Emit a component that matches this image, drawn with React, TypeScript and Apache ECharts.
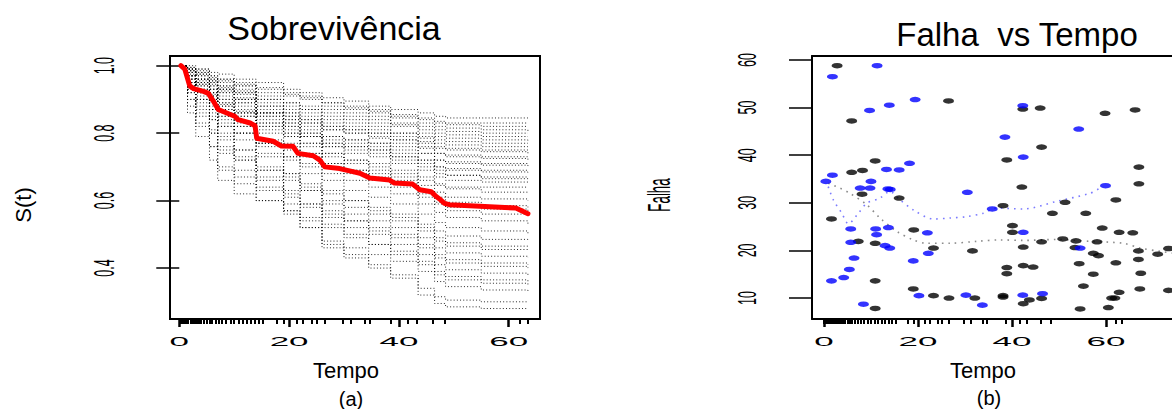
import React, { useEffect, useRef } from "react";
import * as echarts from "echarts";

// ---------- Panel (a): survival curves ----------
const curveTimes = [0, 1.5, 3, 5.5, 7, 10, 14, 19, 22, 26, 30, 34.5, 38.5, 43.5, 46.5, 48.5, 55, 63.5];
const survCurves = [
  [1, 1, 0.99, 0.98, 0.975, 0.96, 0.95, 0.93, 0.92, 0.905, 0.895, 0.88, 0.87, 0.86, 0.85, 0.845, 0.845, 0.845],
  [1, 0.985, 0.975, 0.965, 0.955, 0.945, 0.935, 0.92, 0.91, 0.89, 0.875, 0.865, 0.855, 0.845, 0.835, 0.83, 0.83, 0.83],
  [1, 0.99, 0.985, 0.97, 0.96, 0.95, 0.93, 0.915, 0.9, 0.89, 0.88, 0.87, 0.85, 0.84, 0.83, 0.825, 0.82, 0.82],
  [1, 0.98, 0.96, 0.955, 0.95, 0.94, 0.92, 0.91, 0.905, 0.88, 0.87, 0.86, 0.845, 0.83, 0.82, 0.815, 0.81, 0.805],
  [1, 0.97, 0.95, 0.94, 0.93, 0.925, 0.9, 0.89, 0.88, 0.87, 0.86, 0.85, 0.83, 0.82, 0.81, 0.805, 0.8, 0.8],
  [1, 0.97, 0.955, 0.945, 0.935, 0.92, 0.9, 0.88, 0.87, 0.86, 0.85, 0.84, 0.825, 0.81, 0.8, 0.795, 0.79, 0.79],
  [1, 0.995, 0.99, 0.97, 0.96, 0.94, 0.91, 0.89, 0.87, 0.85, 0.84, 0.83, 0.82, 0.8, 0.79, 0.785, 0.78, 0.775],
  [1, 0.99, 0.97, 0.95, 0.94, 0.93, 0.89, 0.87, 0.86, 0.84, 0.83, 0.82, 0.8, 0.79, 0.78, 0.775, 0.77, 0.77],
  [1, 0.96, 0.94, 0.93, 0.92, 0.9, 0.88, 0.86, 0.85, 0.83, 0.82, 0.81, 0.8, 0.785, 0.77, 0.765, 0.76, 0.76],
  [1, 0.94, 0.92, 0.91, 0.9, 0.88, 0.86, 0.85, 0.84, 0.82, 0.81, 0.8, 0.79, 0.775, 0.76, 0.755, 0.75, 0.75],
  [1, 0.985, 0.97, 0.95, 0.93, 0.915, 0.88, 0.86, 0.84, 0.82, 0.81, 0.8, 0.78, 0.77, 0.755, 0.75, 0.745, 0.74],
  [1, 0.975, 0.96, 0.94, 0.92, 0.9, 0.86, 0.84, 0.83, 0.81, 0.8, 0.785, 0.77, 0.755, 0.74, 0.735, 0.73, 0.73],
  [1, 0.95, 0.93, 0.91, 0.9, 0.89, 0.86, 0.84, 0.83, 0.81, 0.8, 0.79, 0.78, 0.76, 0.74, 0.73, 0.725, 0.72],
  [1, 0.96, 0.945, 0.93, 0.91, 0.89, 0.85, 0.83, 0.81, 0.79, 0.78, 0.77, 0.75, 0.74, 0.72, 0.715, 0.71, 0.71],
  [1, 0.99, 0.975, 0.96, 0.94, 0.92, 0.87, 0.85, 0.82, 0.79, 0.78, 0.77, 0.76, 0.74, 0.72, 0.71, 0.705, 0.7],
  [1, 0.995, 0.98, 0.955, 0.925, 0.905, 0.86, 0.83, 0.8, 0.77, 0.76, 0.75, 0.73, 0.72, 0.7, 0.695, 0.69, 0.69],
  [1, 0.97, 0.94, 0.92, 0.89, 0.87, 0.84, 0.82, 0.8, 0.78, 0.77, 0.76, 0.74, 0.72, 0.7, 0.69, 0.685, 0.68],
  [1, 0.95, 0.92, 0.9, 0.88, 0.86, 0.83, 0.81, 0.79, 0.76, 0.75, 0.74, 0.72, 0.7, 0.68, 0.675, 0.67, 0.67],
  [1, 0.93, 0.9, 0.88, 0.86, 0.85, 0.82, 0.8, 0.79, 0.77, 0.76, 0.75, 0.73, 0.71, 0.69, 0.675, 0.665, 0.66],
  [1, 0.99, 0.98, 0.96, 0.93, 0.9, 0.85, 0.82, 0.79, 0.76, 0.74, 0.73, 0.71, 0.69, 0.67, 0.66, 0.655, 0.65],
  [1, 0.97, 0.945, 0.915, 0.885, 0.865, 0.83, 0.8, 0.77, 0.74, 0.72, 0.7, 0.68, 0.66, 0.645, 0.64, 0.64, 0.64],
  [1, 0.96, 0.93, 0.9, 0.87, 0.85, 0.81, 0.79, 0.77, 0.74, 0.72, 0.71, 0.69, 0.67, 0.65, 0.635, 0.625, 0.62],
  [1, 0.98, 0.95, 0.92, 0.88, 0.86, 0.82, 0.79, 0.76, 0.73, 0.71, 0.69, 0.67, 0.645, 0.625, 0.61, 0.605, 0.6],
  [1, 0.92, 0.88, 0.85, 0.82, 0.8, 0.77, 0.75, 0.73, 0.71, 0.69, 0.68, 0.66, 0.63, 0.61, 0.595, 0.585, 0.58],
  [1, 0.94, 0.9, 0.87, 0.84, 0.82, 0.78, 0.76, 0.74, 0.71, 0.69, 0.67, 0.65, 0.62, 0.595, 0.58, 0.575, 0.57],
  [1, 0.985, 0.96, 0.93, 0.89, 0.86, 0.8, 0.77, 0.74, 0.7, 0.68, 0.66, 0.64, 0.61, 0.59, 0.57, 0.56, 0.555],
  [1, 0.95, 0.91, 0.87, 0.83, 0.8, 0.76, 0.73, 0.71, 0.68, 0.66, 0.64, 0.62, 0.59, 0.565, 0.55, 0.54, 0.53],
  [1, 0.97, 0.93, 0.89, 0.85, 0.82, 0.77, 0.73, 0.7, 0.66, 0.63, 0.61, 0.59, 0.56, 0.535, 0.52, 0.51, 0.5],
  [1, 0.9, 0.85, 0.8, 0.75, 0.72, 0.69, 0.67, 0.65, 0.62, 0.6, 0.58, 0.56, 0.53, 0.51, 0.495, 0.485, 0.48],
  [1, 0.99, 0.96, 0.92, 0.87, 0.83, 0.77, 0.72, 0.68, 0.63, 0.6, 0.57, 0.55, 0.52, 0.49, 0.475, 0.465, 0.46],
  [1, 0.94, 0.89, 0.84, 0.79, 0.75, 0.7, 0.66, 0.63, 0.6, 0.58, 0.56, 0.54, 0.51, 0.48, 0.465, 0.455, 0.45],
  [1, 0.96, 0.92, 0.87, 0.82, 0.78, 0.73, 0.68, 0.64, 0.59, 0.56, 0.54, 0.52, 0.49, 0.46, 0.445, 0.435, 0.43],
  [1, 0.88, 0.82, 0.76, 0.7, 0.67, 0.64, 0.61, 0.59, 0.56, 0.54, 0.52, 0.5, 0.47, 0.44, 0.425, 0.415, 0.41],
  [1, 0.98, 0.95, 0.9, 0.85, 0.8, 0.74, 0.68, 0.63, 0.57, 0.54, 0.51, 0.49, 0.46, 0.43, 0.415, 0.405, 0.4],
  [1, 0.93, 0.87, 0.81, 0.76, 0.72, 0.67, 0.62, 0.59, 0.55, 0.52, 0.5, 0.47, 0.44, 0.41, 0.395, 0.385, 0.38],
  [1, 0.97, 0.92, 0.86, 0.8, 0.75, 0.69, 0.63, 0.58, 0.53, 0.5, 0.47, 0.45, 0.42, 0.39, 0.375, 0.365, 0.36],
  [1, 0.86, 0.79, 0.72, 0.66, 0.62, 0.6, 0.57, 0.55, 0.52, 0.49, 0.47, 0.44, 0.41, 0.38, 0.365, 0.355, 0.35],
  [1, 0.95, 0.9, 0.84, 0.78, 0.73, 0.66, 0.59, 0.54, 0.48, 0.46, 0.44, 0.42, 0.39, 0.36, 0.345, 0.335, 0.33],
  [1, 0.92, 0.86, 0.8, 0.74, 0.69, 0.63, 0.57, 0.52, 0.47, 0.44, 0.41, 0.38, 0.34, 0.315, 0.305, 0.3, 0.3],
  [1, 0.9, 0.83, 0.76, 0.69, 0.65, 0.6, 0.56, 0.52, 0.46, 0.43, 0.4, 0.37, 0.32, 0.295, 0.285, 0.28, 0.28],
];

const meanTimes = [0.3, 1.0, 1.9, 2.6, 4.4, 5.3, 6.2, 7.1, 9.2, 10.1, 10.7, 12.9, 13.8, 14.1, 17.1, 18.6, 20.7, 21.6, 24.4, 25.6, 26.5, 29.2, 31.0, 32.9, 34.7, 38.3, 39.2, 42.5, 43.8, 45.9, 46.8, 47.4, 48.3, 49.2, 61.3, 63.5];
const meanSurv = [1.0, 0.99, 0.94, 0.932, 0.924, 0.918, 0.895, 0.87, 0.856, 0.85, 0.84, 0.83, 0.822, 0.785, 0.776, 0.762, 0.761, 0.74, 0.733, 0.72, 0.7, 0.695, 0.688, 0.681, 0.667, 0.661, 0.652, 0.649, 0.632, 0.626, 0.612, 0.605, 0.592, 0.588, 0.578, 0.561];

const rugTimes = [0, 0.4, 0.8, 1.2, 1.6, 2, 2.4, 2.8, 3.2, 3.6, 4, 4.5, 5, 5.5, 6, 6.6, 7.2, 7.8, 8.5, 9.3, 10, 10.8, 11.5, 12.2, 13, 13.8, 14.5, 15.2, 17.8, 19, 21.4, 22.5, 24.1, 25, 26.5, 29.8, 31.3, 33.8, 34.7, 38.6, 41.6, 43.2, 46.2, 48.3, 62, 63.4];

const leftXTicks = [0, 20, 40, 60];
const leftXLabels = ["0", "20", "40", "60"];
const leftYTicks = [0.4, 0.6, 0.8, 1.0];
const leftYLabels = ["0.4", "0.6", "0.8", "1.0"];

// ---------- Panel (b): Falha vs Tempo ----------
const blackTempo = [2.8, 5.9, 10.9, 5.9, 8.2, 8.1, 16.0, 1.6, 7.3, 10.9, 19.1, 23.3, 31.6, 10.9, 19.0, 23.3, 26.6, 32.1, 10.9, 26.5,
  42.3, 46.0, 59.8, 66.2, 46.3, 38.9, 42.1, 67.0, 67.0, 38.1, 62.1, 48.6, 55.7, 51.3, 40.1, 40.1, 59.2, 62.8, 65.7, 42.4,
  46.3, 50.8, 53.6, 53.4, 58.1, 57.3, 58.4, 66.9, 66.9, 71.0, 73.3, 38.9, 38.9, 42.4, 44.5, 54.3, 62.1, 57.3, 67.4, 55.2,
  67.2, 73.3, 38.1, 38.1, 42.4, 43.7, 46.3, 54.5, 60.5, 61.9, 62.8, 61.2];
const blackFalha = [58.8, 47.2, 38.8, 36.4, 36.8, 31.8, 31.0, 26.6, 21.9, 21.5, 24.3, 20.5, 19.9, 13.6, 11.9, 10.5, 10.0, 10.0, 7.8, 51.4,
  49.7, 49.9, 48.8, 49.5, 41.7, 39.0, 33.3, 37.5, 34.0, 29.4, 30.6, 27.8, 27.8, 30.1, 25.2, 23.8, 24.7, 23.8, 23.7, 20.7,
  21.8, 22.4, 22.0, 20.6, 21.8, 19.4, 18.9, 19.9, 18.1, 19.2, 20.4, 16.4, 15.1, 16.8, 16.5, 17.2, 17.4, 15.0, 15.2, 12.5,
  11.9, 11.6, 10.5, 10.2, 8.8, 9.6, 9.9, 7.7, 8.0, 10.0, 11.2, 10.0];
const blueTempo = [11.3, 1.8, 9.7, 13.9, 19.4, 1.8, 0.4, 13.3, 16.0, 18.2, 10.0, 7.7, 9.8, 13.6, 14.1, 30.5, 5.7, 11.0, 13.7, 11.2,
  22.0, 5.7, 13.0, 14.0, 6.4, 22.2, 19.0, 5.4, 4.2, 1.6, 20.2, 30.2, 8.4, 33.7,
  42.3, 38.5, 42.4, 54.2, 59.9, 35.8, 42.4, 54.5, 42.3, 46.5];
const blueFalha = [58.8, 56.5, 49.4, 50.5, 51.7, 35.8, 34.5, 37.0, 36.9, 38.3, 34.5, 33.1, 33.1, 32.9, 32.8, 32.2, 24.5, 24.5, 24.8, 23.3,
  23.7, 21.7, 21.0, 20.5, 18.4, 19.4, 17.8, 16.0, 14.3, 13.6, 10.5, 10.6, 8.7, 8.5,
  50.4, 43.8, 39.6, 45.5, 33.6, 28.7, 23.8, 20.5, 10.6, 10.9];

const grayLineT = [0.9, 3.4, 5.5, 9.1, 11.9, 15.5, 19.0, 21.8, 26.8, 32.5, 37.4, 42.4, 49.5, 56.6, 63.7, 67.2, 71.5, 74.5];
const grayLineF = [34.1, 33.1, 32.0, 29.6, 26.8, 24.0, 22.2, 21.5, 21.5, 21.9, 22.2, 22.1, 22.3, 21.9, 21.5, 20.5, 19.8, 19.4];
const blueLineT = [0.9, 2.0, 3.8, 5.2, 7.3, 9.1, 11.9, 14.0, 16.2, 19.0, 23.3, 26.8, 30.4, 33.9, 36.7, 42.4, 49.5, 56.6, 58.7];
const blueLineF = [33.4, 30.6, 27.8, 25.6, 27.8, 29.9, 31.0, 32.4, 30.6, 28.5, 26.6, 26.8, 27.1, 27.8, 28.9, 28.7, 30.3, 32.0, 33.1];

const rightXTicks = [0, 20, 40, 60];
const rightXLabels = ["0", "20", "40", "60"];
const rightYTicks = [10, 20, 30, 40, 50, 60];
const rightYLabels = ["10", "20", "30", "40", "50", "60"];

const FONT = '"Liberation Sans", Arial, Helvetica, sans-serif';

function txt(text: string, x: number, y: number, size: number, rotation = 0, sx = 1, sy = 1) {
  return {
    type: "text",
    x,
    y,
    rotation,
    scaleX: sx,
    scaleY: sy,
    silent: true,
    z: 100,
    style: {
      text,
      font: `${size}px ${FONT}`,
      fill: "#000",
      align: "center",
      verticalAlign: "middle",
      textAlign: "center",
      textVerticalAlign: "middle",
    },
  };
}

export default function App() {
  const ref = useRef<HTMLDivElement>(null);

  useEffect(() => {
    const el = ref.current;
    if (!el) return;
    const chart = echarts.init(el, null, { renderer: "svg" });

    const hiddenBits = {
      axisLabel: { show: false },
      splitLine: { show: false },
    };
    const noLine = { show: false };
    const boxLine = { show: true, onZero: false, lineStyle: { color: "#000", width: 2 } };

    const series: any[] = [];
    survCurves.forEach((c, i) => {
      series.push({
        type: "line",
        name: "curve" + i,
        xAxisIndex: 0,
        yAxisIndex: 0,
        step: "end",
        showSymbol: false,
        symbol: "none",
        silent: true,
        z: 2,
        lineStyle: { color: "rgba(0,0,0,0.85)", width: 1, type: [1, 2.2] },
        data: curveTimes.map((t, k) => [t, c[k]]),
      });
    });
    series.push({
      type: "line",
      name: "media",
      xAxisIndex: 0,
      yAxisIndex: 0,
      showSymbol: false,
      symbol: "none",
      z: 5,
      lineStyle: { color: "#ff0000", width: 5, join: "round", cap: "round" },
      data: meanTimes.map((t, k) => [t, meanSurv[k]]),
    });
    series.push({
      type: "line",
      name: "loessPreto",
      xAxisIndex: 2,
      yAxisIndex: 1,
      showSymbol: false,
      symbol: "none",
      smooth: 0.3,
      z: 2,
      lineStyle: { color: "#8c8c8c", width: 1.6, type: [1.6, 5] },
      data: grayLineT.map((t, k) => [t, grayLineF[k]]),
    });
    series.push({
      type: "line",
      name: "loessAzul",
      xAxisIndex: 2,
      yAxisIndex: 1,
      showSymbol: false,
      symbol: "none",
      smooth: 0.3,
      z: 2,
      lineStyle: { color: "#7b7bff", width: 1.6, type: [1.6, 5] },
      data: blueLineT.map((t, k) => [t, blueLineF[k]]),
    });
    series.push({
      type: "scatter",
      name: "preto",
      xAxisIndex: 2,
      yAxisIndex: 1,
      symbol: "circle",
      symbolSize: [11, 5.5],
      z: 4,
      clip: false,
      itemStyle: { color: "#000000" },
      data: blackTempo.map((t, k) => [t, blackFalha[k]]),
    });
    series.push({
      type: "scatter",
      name: "azul",
      xAxisIndex: 2,
      yAxisIndex: 1,
      symbol: "circle",
      symbolSize: [11, 5.5],
      z: 4,
      clip: false,
      itemStyle: { color: "#0000ff" },
      data: blueTempo.map((t, k) => [t, blueFalha[k]]),
    });

    const option: any = {
      animation: false,
      backgroundColor: "#ffffff",
      grid: [
        { left: 170, top: 56, width: 370, height: 263, show: true, borderColor: "#000", borderWidth: 2, backgroundColor: "transparent", containLabel: false },
        { left: 812, top: 56, width: 360, height: 263, show: false, containLabel: false },
      ],
      xAxis: [
        {
          type: "value", gridIndex: 0, position: "bottom", min: -1.69, max: 65.7, ...hiddenBits, axisLine: noLine,
          axisTick: { show: true, customValues: leftXTicks, length: 8, inside: false, lineStyle: { color: "#000", width: 2.5 } },
        },
        {
          type: "value", gridIndex: 0, position: "bottom", offset: 0, min: -1.69, max: 65.7, ...hiddenBits, axisLine: noLine,
          axisTick: { show: true, customValues: rugTimes, length: 5, inside: false, lineStyle: { color: "#000", width: 2 } },
        },
        {
          type: "value", gridIndex: 1, position: "bottom", min: -2.55, max: 74.04, ...hiddenBits, axisLine: boxLine,
          axisTick: { show: true, customValues: rightXTicks, length: 8, inside: false, lineStyle: { color: "#000", width: 2.5 } },
        },
        {
          type: "value", gridIndex: 1, position: "bottom", offset: 0, min: -2.55, max: 74.04, ...hiddenBits, axisLine: noLine,
          axisTick: { show: true, customValues: rugTimes, length: 5, inside: false, lineStyle: { color: "#000", width: 2 } },
        },
        {
          type: "value", gridIndex: 1, position: "top", offset: 0, min: -2.55, max: 74.04, ...hiddenBits, axisLine: boxLine,
          axisTick: { show: false },
        },
      ],
      yAxis: [
        {
          type: "value", gridIndex: 0, position: "left", min: 0.249, max: 1.0287, ...hiddenBits, axisLine: noLine,
          axisTick: { show: true, customValues: leftYTicks, length: 23, inside: false, lineStyle: { color: "#000", width: 1.5 } },
        },
        {
          type: "value", gridIndex: 1, position: "left", min: 5.59, max: 60.84, ...hiddenBits, axisLine: boxLine,
          axisTick: { show: true, customValues: rightYTicks, length: 23, inside: false, lineStyle: { color: "#000", width: 1.5 } },
        },
      ],
      series,
    };

    chart.setOption(option);

    const g: any[] = [];
    g.push(txt("Sobrevivência", 334, 28, 34));
    g.push(txt("Falha  vs Tempo", 1017, 34, 33));
    g.push(txt("Tempo", 346, 370, 22));
    g.push(txt("(a)", 351, 399, 20));
    g.push(txt("Tempo", 983, 370, 22));
    g.push(txt("(b)", 989, 398, 20));
    g.push(txt("S(t)", 23, 205, 22, Math.PI / 2));
    g.push(txt("Falha", 660, 195, 13.3, Math.PI / 2, 1, 2.3));

    leftXTicks.forEach((v, i) => {
      const px = chart.convertToPixel({ xAxisIndex: 0 } as any, v) as unknown as number;
      g.push(txt(leftXLabels[i], px, 342, 12.5, 0, 2.8, 1));
    });
    rightXTicks.forEach((v, i) => {
      const px = chart.convertToPixel({ xAxisIndex: 2 } as any, v) as unknown as number;
      g.push(txt(rightXLabels[i], px, 342, 12.5, 0, 2.8, 1));
    });
    leftYTicks.forEach((v, i) => {
      const py = chart.convertToPixel({ yAxisIndex: 0 } as any, v) as unknown as number;
      g.push(txt(leftYLabels[i], 104, py, 12.5, Math.PI / 2, 1, 2.4));
    });
    rightYTicks.forEach((v, i) => {
      const py = chart.convertToPixel({ yAxisIndex: 1 } as any, v) as unknown as number;
      g.push(txt(rightYLabels[i], 746, py, 12.5, Math.PI / 2, 1, 2.1));
    });

    chart.setOption({ graphic: { elements: g } });

    return () => {
      chart.dispose();
    };
  }, []);

  return (
    <div
      ref={ref}
      style={{ position: "fixed", left: 0, top: 0, width: 1172, height: 409, background: "#fff", overflow: "hidden" }}
    />
  );
}
